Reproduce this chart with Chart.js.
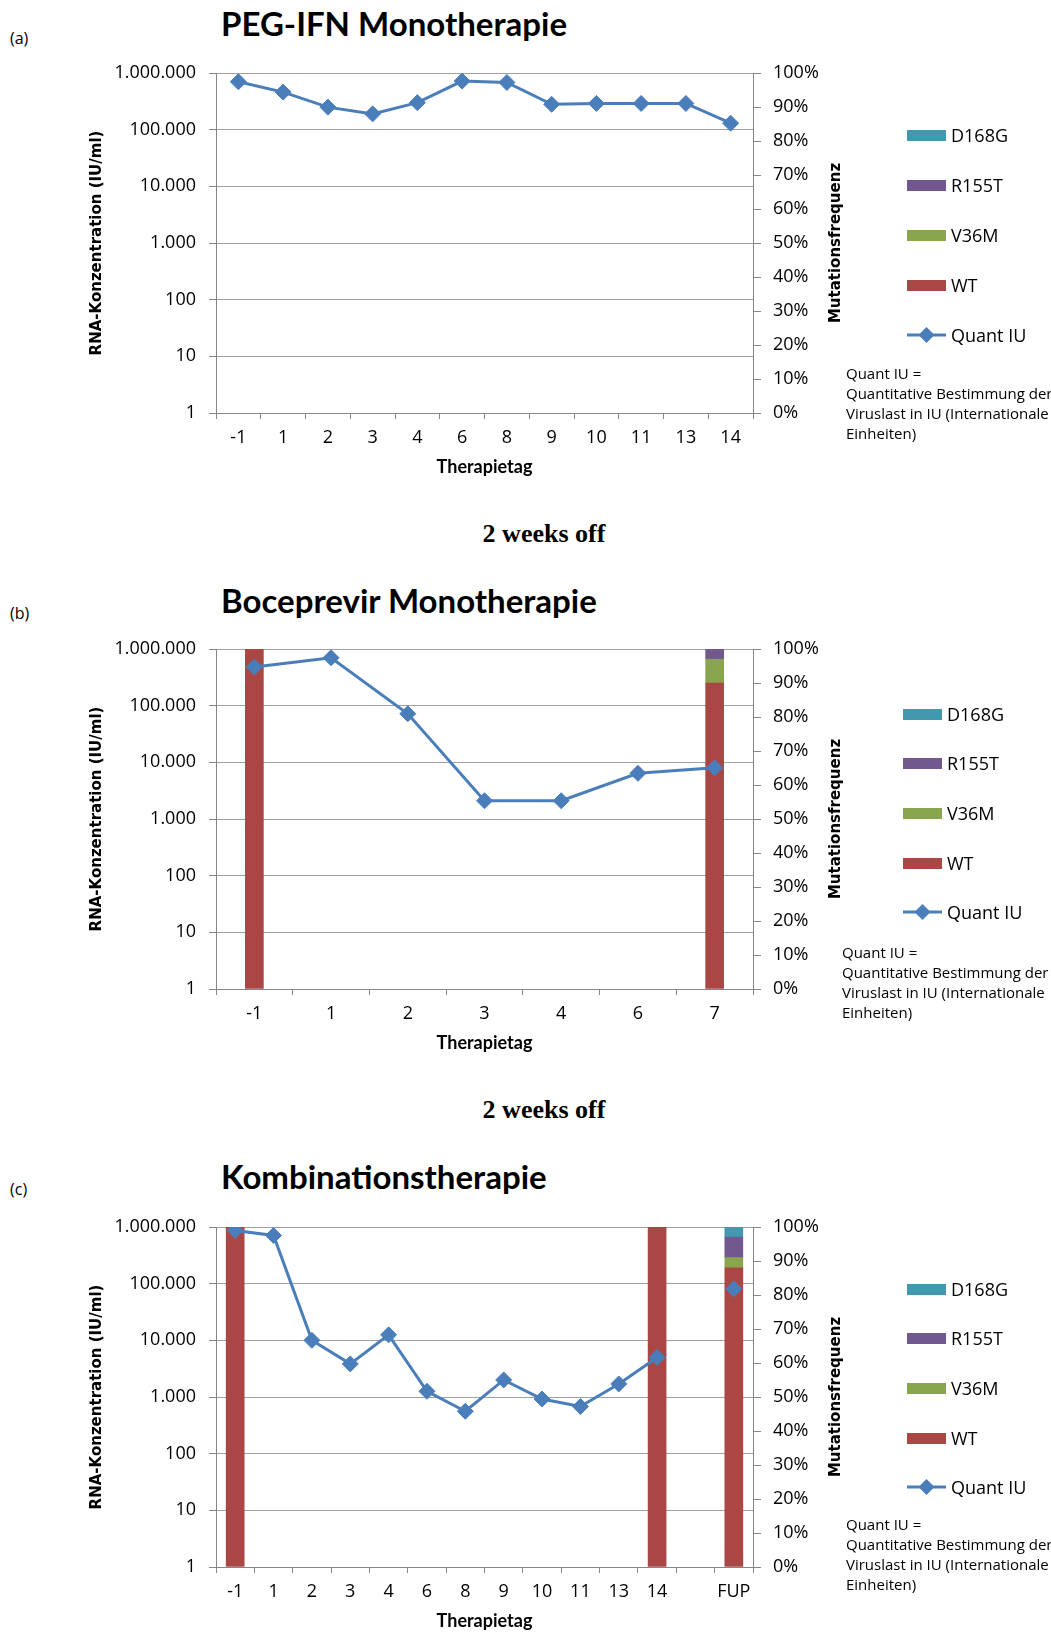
<!DOCTYPE html>
<html><head><meta charset="utf-8">
<script src="https://cdn.jsdelivr.net/npm/chart.js@4/dist/chart.umd.min.js"></script>
<style>
html,body{margin:0;padding:0;background:#fff;}
body{width:1051px;height:1635px;position:relative;overflow:hidden;}
.abs{position:absolute;white-space:nowrap;color:#000;}
.title{font-family:Lato;font-weight:700;font-size:33px;line-height:40px;left:221px;}
.plab{font-family:'Open Sans';font-size:16px;line-height:20px;left:10px;}
.off{font-family:'Liberation Serif';font-weight:bold;font-size:26px;line-height:30px;left:0;width:1088px;text-align:center;}
canvas{position:absolute;left:0;}
.leg{font-family:'Open Sans';font-size:18px;line-height:24px;height:24px;}
.leg .sw{position:absolute;left:0;top:7px;width:39px;height:11px;}
.leg svg{position:absolute;left:0;top:2px;}
.leg span{position:absolute;left:44px;top:0;}
.note{font-family:'Open Sans';font-size:15px;line-height:20px;}
</style></head>
<body>
<div class="abs plab" style="top:28px">(a)</div>
<div class="abs title" style="top:3px">PEG-IFN Monotherapie</div>
<canvas id="cA" width="1051" height="480" style="top:0px;width:1051px;height:480px"></canvas>
<div class="abs off" style="top:519px">2 weeks off</div>
<div class="abs plab" style="top:603px">(b)</div>
<div class="abs title" style="top:580px">Boceprevir Monotherapie</div>
<canvas id="cB" width="1051" height="480" style="top:576px;width:1051px;height:480px"></canvas>
<div class="abs off" style="top:1095px">2 weeks off</div>
<div class="abs plab" style="top:1179px">(c)</div>
<div class="abs title" style="top:1156px">Kombinationstherapie</div>
<canvas id="cC" width="1051" height="480" style="top:1154px;width:1051px;height:480px"></canvas>
<script>
// ---------- data ----------
const seriesNames = ['D168G', 'R155T', 'V36M', 'WT'];
const seriesColors = ['#4198AF', '#71588F', '#89A54E', '#AA4643'];
const lineName = 'Quant IU';
const lineColor = '#4A7EBB';
const noteLines = ['Quant IU =', 'Quantitative Bestimmung der', 'Viruslast in IU (Internationale', 'Einheiten)'];
const leftTitle = 'RNA-Konzentration (IU/ml)';
const rightTitle = 'Mutationsfrequenz';
const xTitle = 'Therapietag';
const logTickValues = [1, 10, 100, 1000, 10000, 100000, 1000000];
const logTickLabels = ['1', '10', '100', '1.000', '10.000', '100.000', '1.000.000'];

// (a) PEG-IFN Monotherapie
const catsA = ['-1', '1', '2', '3', '4', '6', '8', '9', '10', '11', '13', '14'];
const quantA = [700000, 460000, 250000, 190000, 300000, 720000, 680000, 280000, 290000, 290000, 290000, 130000];

// (b) Boceprevir Monotherapie
const catsB = ['-1', '1', '2', '3', '4', '6', '7'];
const quantB = [480000, 700000, 72000, 2100, 2100, 6400, 8000];
const wtB    = [100, null, null, null, null, null, 90];
const v36mB  = [null, null, null, null, null, null, 7];
const r155tB = [null, null, null, null, null, null, 3];
const d168gB = [null, null, null, null, null, null, null];

// (c) Kombinationstherapie
const catsC = ['-1', '1', '2', '3', '4', '6', '8', '9', '10', '11', '13', '14', '', 'FUP'];
const quantC = [870000, 710000, 10000, 3840, 12500, 1260, 560, 2000, 920, 680, 1700, 5000, null, 81000];
const wtC    = [100, null, null, null, null, null, null, null, null, null, null, 100, null, 88];
const v36mC  = [null, null, null, null, null, null, null, null, null, null, null, null, null, 3];
const r155tC = [null, null, null, null, null, null, null, null, null, null, null, null, null, 6];
const d168gC = [null, null, null, null, null, null, null, null, null, null, null, null, null, 3];

// ---------- chart ----------
Chart.defaults.font.family = "'Open Sans'";
Chart.defaults.color = '#000';
const tickFont = {family: "'Open Sans'", size: 18};
const AXIS = '#868686', GRID = '#A0A0A0';

const rightTitlePlugin = {
  id: 'rightTitle',
  afterDraw(chart) {
    const {ctx, chartArea} = chart;
    ctx.save();
    ctx.translate(836, (chartArea.top + chartArea.bottom) / 2);
    ctx.rotate(-Math.PI / 2);
    ctx.font = "bold 15px 'DejaVu Sans'";
    ctx.fillStyle = '#000';
    ctx.textAlign = 'center';
    ctx.textBaseline = 'middle';
    ctx.fillText(rightTitle, 0, 0);
    ctx.restore();
  }
};

function makeChart(id, cats, quant, bars) {
  const datasets = [{
    type: 'line', label: lineName, data: quant, yAxisID: 'y',
    borderColor: lineColor, backgroundColor: lineColor, borderWidth: 3,
    pointStyle: 'rectRot', pointRadius: 8, pointBorderWidth: 1,
    pointBackgroundColor: lineColor, pointBorderColor: lineColor,
    spanGaps: false, tension: 0
  }];
  // stack order bottom -> top: WT, V36M, R155T, D168G
  for (let i = seriesNames.length - 1; i >= 0; i--) {
    const name = seriesNames[i];
    if (!bars[name]) continue;
    datasets.push({
      type: 'bar', label: name, data: bars[name], yAxisID: 'y1', stack: 'mut',
      backgroundColor: seriesColors[i], borderWidth: 0, barThickness: 18
    });
  }
  return new Chart(document.getElementById(id), {
    data: {labels: cats, datasets},
    options: {
      responsive: false, animation: false, devicePixelRatio: 1,
      layout: {padding: {left: 88, right: 198, top: 73, bottom: 2}},
      plugins: {legend: {display: false}, tooltip: {enabled: false}},
      scales: {
        x: {
          type: 'category', offset: true,
          grid: {offset: true, drawOnChartArea: false, tickLength: 6, color: AXIS},
          border: {color: AXIS},
          ticks: {font: tickFont, color: '#000', padding: 8, maxRotation: 0, autoSkip: false},
          title: {display: true, text: xTitle, color: '#000', font: {family: 'Lato', weight: 'bold', size: 18}, padding: 0},
          afterFit(s) { s.height = 65; }
        },
        y: {
          type: 'logarithmic', position: 'left', min: 1, max: 1000000,
          afterBuildTicks(s) { s.ticks = logTickValues.map(v => ({value: v})); },
          ticks: {font: tickFont, color: '#000', padding: 13, autoSkip: false,
                  callback: v => logTickLabels[logTickValues.indexOf(v)]},
          grid: {color: GRID, tickLength: 7, tickColor: AXIS},
          border: {color: AXIS},
          title: {display: true, text: leftTitle, color: '#000', font: {family: "'DejaVu Sans'", weight: 'bold', size: 15}, padding: 0},
          afterFit(s) { s.width = 128; }
        },
        y1: {
          type: 'linear', position: 'right', min: 0, max: 100, stacked: true,
          ticks: {stepSize: 10, font: tickFont, color: '#000', padding: 12, callback: v => v + '%'},
          grid: {drawOnChartArea: false, tickLength: 8, color: AXIS},
          border: {color: AXIS},
          afterFit(s) { s.width = 100; }
        }
      }
    },
    plugins: [rightTitlePlugin]
  });
}

function makeLegend(swLeft, ys, noteTop) {
  const items = seriesNames.map((n, i) => ({name: n, color: seriesColors[i], line: false}));
  items.push({name: lineName, color: lineColor, line: true});
  items.forEach((it, i) => {
    const d = document.createElement('div');
    d.className = 'abs leg';
    d.style.left = swLeft + 'px';
    d.style.top = (ys[i] - 12) + 'px';
    if (it.line) {
      d.innerHTML = '<svg width="40" height="20"><line x1="0" y1="10" x2="39" y2="10" stroke="' + it.color +
        '" stroke-width="3"/><polygon points="19.5,2 27.5,10 19.5,18 11.5,10" fill="' + it.color + '"/></svg>';
    } else {
      d.innerHTML = '<div class="sw" style="background:' + it.color + '"></div>';
    }
    const s = document.createElement('span');
    s.textContent = it.name;
    d.appendChild(s);
    document.body.appendChild(d);
  });
  const n = document.createElement('div');
  n.className = 'abs note';
  n.style.left = (swLeft - 61) + 'px';
  n.style.top = noteTop + 'px';
  n.innerHTML = noteLines.map(t => t.replace(/&/g, '&amp;')).join('<br>');
  document.body.appendChild(n);
}

makeChart('cA', catsA, quantA, {});
makeChart('cB', catsB, quantB, {'WT': wtB, 'V36M': v36mB, 'R155T': r155tB, 'D168G': d168gB});
makeChart('cC', catsC, quantC, {'WT': wtC, 'V36M': v36mC, 'R155T': r155tC, 'D168G': d168gC});

makeLegend(907, [135, 185, 235, 285, 335], 363);
makeLegend(903, [714, 763, 813, 863, 912], 942);
makeLegend(907, [1289, 1338, 1388, 1438, 1487], 1514);
</script>
</body></html>
